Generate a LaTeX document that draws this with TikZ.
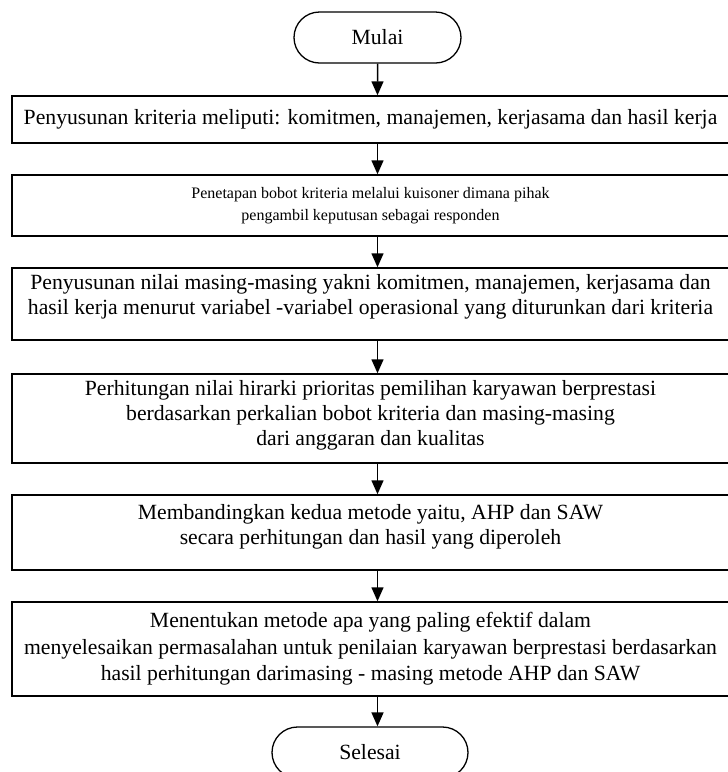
\documentclass[tikz,border=0pt]{standalone}
\usepackage{fontspec}
\setmainfont{Liberation Serif}
\usetikzlibrary{arrows.meta,shapes.misc,positioning}
\tikzset{>={Triangle[length=14pt,width=12pt]}}
\tikzset{langkah/.style={draw, line width=1.5pt, minimum width=717pt, inner sep=0pt, align=center,
        font=\fontsize{21.7}{25}\selectfont},
    ujung/.style={draw, rounded rectangle, line width=1.3pt, minimum height=51pt, inner sep=0pt,
        font=\fontsize{21.7}{25}\selectfont},
    panah/.style={->, line width=1.5pt}}

\begin{document}
\begin{tikzpicture}[x=1pt,y=-1pt]
            \useasboundingbox (0,0) rectangle (728,772);

            \node[ujung, minimum width=167pt] (mulai) at (377.5,37.5) {Mulai};

            \node[langkah, minimum height=47pt] (b1) at (370.5,119.5)
                {Penyusunan kriteria meliputi: komitmen, manajemen, kerjasama dan hasil kerja};
            \node[langkah, minimum height=61pt, font=\fontsize{16}{22}\selectfont] (b2) at (370.5,205.5)
                {Penetapan bobot kriteria melalui kuisoner dimana pihak\\
                 pengambil keputusan sebagai responden};
            \node[langkah, minimum height=72pt] (b3) at (370.5,304)
                {Penyusunan nilai masing-masing yakni komitmen, manajemen, kerjasama dan\\
                 hasil kerja menurut variabel -variabel operasional yang diturunkan dari kriteria\\[-6pt]\mbox{}};
            \node[langkah, minimum height=89pt] (b4) at (370.5,418.5)
                {Perhitungan nilai hirarki prioritas pemilihan karyawan berprestasi\\
                 berdasarkan perkalian bobot kriteria dan masing-masing\\
                 dari anggaran dan kualitas\\[-14pt]\mbox{}};
            \node[langkah, minimum height=75pt] (b5) at (370.5,532.5)
                {Membandingkan kedua metode yaitu, AHP dan SAW\\
                 secara perhitungan dan hasil yang diperoleh\\[-8pt]\mbox{}};
            \node[langkah, minimum height=94pt, font=\fontsize{21.7}{26.5}\selectfont] (b6) at (370.5,649)
                {Menentukan metode apa yang paling efektif dalam\\
                 menyelesaikan permasalahan untuk penilaian karyawan berprestasi berdasarkan\\
                 hasil perhitungan darimasing - masing metode AHP dan SAW};

            \node[ujung, minimum width=196pt] (selesai) at (370,752.5) {Selesai};

            % panah antar langkah
            \draw[panah] (mulai) -- (mulai |- b1.north);
            \foreach \i [evaluate=\i as \j using int(\i+1)] in {1,...,5}
                \draw[panah] (b\i.south -| mulai) -- (b\j.north -| mulai);
            \draw[panah] (b6.south -| mulai) -- (mulai |- selesai.north);
\end{tikzpicture}
\end{document}
